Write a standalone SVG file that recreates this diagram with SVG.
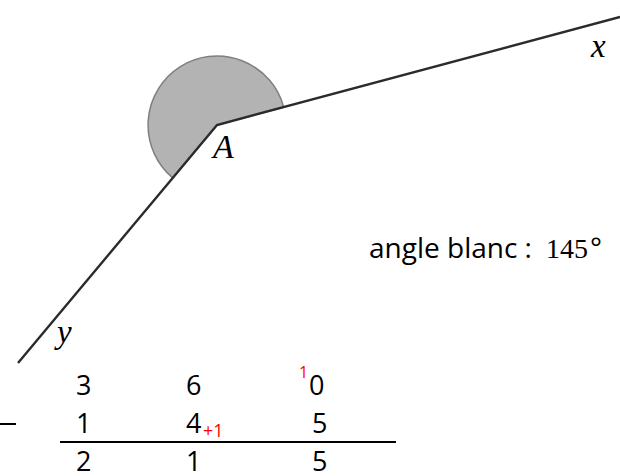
<svg xmlns="http://www.w3.org/2000/svg" width="620" height="476" viewBox="0 0 620 476">
<style>
.ray{stroke:#2b2b2b;stroke-width:2.4;fill:none;stroke-linecap:butt}
.math{font-family:"Liberation Serif",serif;font-style:italic;fill:#000}
.cal{font-family:"Open Sans","Noto Sans",sans-serif;fill:#000}
.dig{font-family:"Open Sans","Noto Sans",sans-serif;fill:#000;font-size:27px}
.red{font-family:"Open Sans","Noto Sans",sans-serif;fill:#ff0000}
</style>
<rect width="620" height="476" fill="#ffffff"/>
<g id="sector">
<path d="M217 125 L283.7 107.1 A69 69 0 1 0 172.7 177.9 Z" fill="#b3b3b3" stroke="#7f7f7f" stroke-width="1.5"/>
</g>
<g id="connectors">
<polyline class="ray" points="620,17 217,125 18,363"/>
</g>
<g id="labels">
<text class="math" x="213" y="158" font-size="34">A</text>
<text class="math" x="591" y="57" font-size="33">x</text>
<text class="math" x="57" y="343" font-size="33">y</text>
</g>
<g id="caption">
<text class="cal" x="369" y="258" font-size="28">angle blanc : <tspan font-family="Liberation Serif, serif" font-size="28" x="546">145</tspan><tspan x="590">°</tspan></text>
</g>
<g id="subtraction">
<text class="dig" x="76" y="395">3</text>
<text class="dig" x="186" y="395">6</text>
<text class="red" font-size="16" x="299" y="378">1</text>
<text class="dig" x="309" y="395">0</text>
<line x1="0" y1="424" x2="16" y2="424" stroke="#000" stroke-width="2"/>
<text class="dig" x="76" y="433">1</text>
<text class="dig" x="186" y="433">4</text>
<text class="red" font-size="18" x="203" y="437">+1</text>
<text class="dig" x="312" y="433">5</text>
<line x1="60" y1="442" x2="396" y2="442" stroke="#000" stroke-width="2"/>
<text class="dig" x="76" y="471">2</text>
<text class="dig" x="186" y="471">1</text>
<text class="dig" x="312" y="471">5</text>
</g>
</svg>
